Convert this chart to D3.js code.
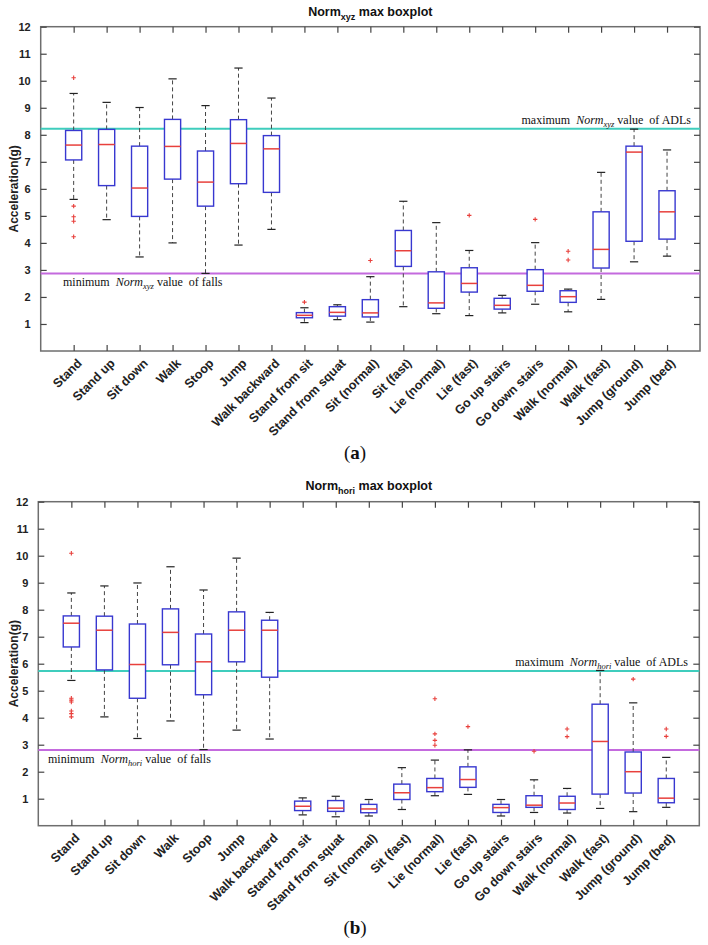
<!DOCTYPE html>
<html><head><meta charset="utf-8">
<script src="https://cdn.jsdelivr.net/npm/d3@7"></script>
<style>body{margin:0;background:#fff} svg{display:block}</style>
</head><body>
<svg id="c" width="708" height="945"></svg>
<script>
const categories = ["Stand","Stand up","Sit down","Walk","Stoop","Jump","Walk backward","Stand from sit","Stand from squat","Sit (normal)","Sit (fast)","Lie (normal)","Lie (fast)","Go up stairs","Go down stairs","Walk (normal)","Walk (fast)","Jump (ground)","Jump (bed)"];
const yTicks = [1,2,3,4,5,6,7,8,9,10,11,12];

// (a) Norm_xyz
const xyzLow  = [5.61,4.86,3.48,4.00,2.87,3.92,4.50,1.05,1.16,1.07,1.64,1.38,1.31,1.41,1.73,1.45,1.91,3.30,3.51];
const xyzQ1   = [7.07,6.12,4.98,6.36,5.36,6.19,5.87,1.23,1.29,1.26,3.13,1.58,2.18,1.55,2.21,1.80,3.07,4.06,4.14];
const xyzMed  = [7.62,7.64,6.03,7.57,6.25,7.68,7.48,1.32,1.43,1.41,3.71,1.78,2.50,1.69,2.43,2.01,3.76,7.36,5.15];
const xyzQ3   = [8.16,8.20,7.58,8.57,7.40,8.56,7.97,1.42,1.64,1.90,4.46,2.93,3.08,1.95,3.01,2.23,5.15,7.58,5.93];
const xyzHigh = [9.53,9.20,9.01,10.07,9.08,10.47,9.36,1.60,1.71,2.75,5.54,4.75,3.72,2.06,4.01,2.29,6.61,8.21,7.44];
const xyzOut  = [[10.11,5.36,4.97,4.80,4.23],[],[],[],[],[],[],[1.81],[],[3.35],[],[],[5.02],[],[4.87],[3.69,3.37],[],[],[]];
const xyzMaxADL = 8.22, xyzMinFall = 2.87;

// (b) Norm_hori
const horiLow  = [5.38,4.03,3.23,3.88,2.82,3.54,3.21,0.40,0.33,0.36,0.60,1.11,1.16,0.36,0.49,0.47,0.64,0.52,0.68];
const horiQ1   = [6.62,5.77,4.72,5.96,4.85,6.07,5.50,0.56,0.53,0.48,0.97,1.26,1.42,0.49,0.68,0.60,1.17,1.21,0.85];
const horiMed  = [7.50,7.24,5.97,7.16,6.07,7.24,7.24,0.72,0.65,0.62,1.22,1.41,1.71,0.67,0.76,0.84,3.12,2.00,1.02];
const horiQ3   = [7.77,7.76,7.47,8.03,7.10,7.92,7.61,0.91,0.93,0.79,1.54,1.75,2.18,0.79,1.11,1.09,4.50,2.73,1.75];
const horiHigh = [8.62,8.88,8.99,9.59,8.73,9.91,7.90,1.03,1.09,0.97,2.15,2.43,2.81,0.97,1.70,1.38,5.75,4.55,2.53];
const horiOut  = [[10.09,4.72,4.65,4.58,4.25,4.15,4.03],[],[],[],[],[],[],[],[],[],[],[4.70,3.40,3.16,2.98],[3.67],[],[2.76],[3.58,3.30],[],[5.43],[3.58,3.31]];
const horiMaxADL = 5.73, horiMinFall = 2.80;

const svg = d3.select("#c");
const SANS = "'Liberation Sans', Arial, sans-serif";
const SERIF = "'Liberation Serif', 'Times New Roman', serif";

function panel(cfg) {
  const x = d3.scaleLinear().domain([0, categories.length + 1]).range([cfg.left, cfg.right]);
  const y = d3.scaleLinear().domain([0, 12]).range([cfg.bottom, cfg.top]);
  const g = svg.append("g");
  const step = x(1) - x(0);
  const bw = step * 0.49, cw = step * 0.25;

  // title
  const t = g.append("text").attr("x", (cfg.left + cfg.right) / 2).attr("y", cfg.titleY)
    .attr("text-anchor", "middle").attr("font-family", SANS).attr("font-weight", "bold")
    .attr("font-size", 12.5).attr("fill", "#111");
  t.append("tspan").text("Norm");
  t.append("tspan").attr("font-size", 9).attr("dy", 4).text(cfg.sub);
  t.append("tspan").attr("dy", -4).text(" max boxplot");

  // frame
  g.append("rect").attr("x", cfg.left).attr("y", cfg.top)
    .attr("width", cfg.right - cfg.left).attr("height", cfg.bottom - cfg.top)
    .attr("fill", "none").attr("stroke", "#6e6e6e").attr("stroke-width", 1.5);

  // y ticks
  const yAxisL = d3.axisLeft(y).tickValues(yTicks).tickSizeInner(-6).tickSizeOuter(0).tickPadding(10);
  const ga = g.append("g").attr("transform", `translate(${cfg.left},0)`).call(yAxisL);
  ga.select(".domain").remove();
  ga.selectAll(".tick line").attr("stroke", "#444").attr("stroke-width", 1.2);
  ga.selectAll(".tick text").attr("font-family", SANS).attr("font-weight", "bold")
    .attr("font-size", 11).attr("fill", "#222");
  const yAxisR = d3.axisRight(y).tickValues(yTicks).tickSizeInner(-6).tickSizeOuter(0).tickFormat("");
  const gr = g.append("g").attr("transform", `translate(${cfg.right},0)`).call(yAxisR);
  gr.select(".domain").remove();
  gr.selectAll(".tick line").attr("stroke", "#444").attr("stroke-width", 1.2);

  // x ticks
  const idx = categories.map((c, i) => i + 1);
  const xAxisB = d3.axisBottom(x).tickValues(idx).tickSizeInner(-6).tickSizeOuter(0).tickFormat("");
  const gb = g.append("g").attr("transform", `translate(0,${cfg.bottom})`).call(xAxisB);
  gb.select(".domain").remove();
  gb.selectAll(".tick line").attr("stroke", "#444").attr("stroke-width", 1.2);
  const xAxisT = d3.axisTop(x).tickValues(idx).tickSizeInner(-6).tickSizeOuter(0).tickFormat("");
  const gt = g.append("g").attr("transform", `translate(0,${cfg.top})`).call(xAxisT);
  gt.select(".domain").remove();
  gt.selectAll(".tick line").attr("stroke", "#444").attr("stroke-width", 1.2);

  // category labels
  g.selectAll("text.cat").data(categories).join("text").attr("class", "cat")
    .attr("transform", (d, i) => `translate(${x(i + 1) + 9},${cfg.bottom + 13}) rotate(-45)`)
    .attr("text-anchor", "end").attr("font-family", SANS).attr("font-weight", "bold")
    .attr("font-size", 12.5).attr("fill", "#222").text(d => d);

  // y label
  g.append("text").attr("transform", `translate(${cfg.ylabX},${(cfg.top + cfg.bottom) / 2}) rotate(-90)`)
    .attr("text-anchor", "middle").attr("dy", "0.35em").attr("font-family", SANS).attr("font-weight", "bold")
    .attr("font-size", 12).attr("fill", "#222").text("Acceleration(g)");

  // reference lines
  g.append("line").attr("x1", cfg.left).attr("x2", cfg.right).attr("y1", y(cfg.maxADL)).attr("y2", y(cfg.maxADL))
    .attr("stroke", "#3fcdbd").attr("stroke-width", 2);
  g.append("line").attr("x1", cfg.left).attr("x2", cfg.right).attr("y1", y(cfg.minFall)).attr("y2", y(cfg.minFall))
    .attr("stroke", "#c46ade").attr("stroke-width", 2);

  function annot(tx, ty, anchor, pre, post) {
    const a = g.append("text").attr("x", tx).attr("y", ty).attr("text-anchor", anchor)
      .attr("font-family", SERIF).attr("font-size", 12).attr("fill", "#111");
    a.append("tspan").text(pre);
    a.append("tspan").attr("font-style", "italic").text("Norm");
    a.append("tspan").attr("font-style", "italic").attr("font-size", 8.5).attr("dy", 3).text(cfg.sub);
    a.append("tspan").attr("dy", -3).text(post);
  }
  annot(cfg.maxTextX, y(cfg.maxADL) - 5, "end", "maximum\u00a0\u00a0", "\u00a0value\u00a0\u00a0of ADLs");
  annot(cfg.minTextX, y(cfg.minFall) + 13, "start", "minimum\u00a0\u00a0", "\u00a0value\u00a0\u00a0of falls");

  // boxes
  const boxes = categories.map((c, i) => ({ i: i + 1, lo: cfg.low[i], q1: cfg.q1[i], med: cfg.med[i], q3: cfg.q3[i], hi: cfg.high[i], out: cfg.out[i] }));
  const bg = g.append("g");
  const b = bg.selectAll("g").data(boxes).join("g");
  b.append("line").attr("x1", d => x(d.i)).attr("x2", d => x(d.i)).attr("y1", d => y(d.q3)).attr("y2", d => y(d.hi))
    .attr("stroke", "#444").attr("stroke-width", 1).attr("stroke-dasharray", "4,3");
  b.append("line").attr("x1", d => x(d.i)).attr("x2", d => x(d.i)).attr("y1", d => y(d.q1)).attr("y2", d => y(d.lo))
    .attr("stroke", "#444").attr("stroke-width", 1).attr("stroke-dasharray", "4,3");
  b.append("line").attr("x1", d => x(d.i) - cw / 2).attr("x2", d => x(d.i) + cw / 2).attr("y1", d => y(d.hi)).attr("y2", d => y(d.hi))
    .attr("stroke", "#222").attr("stroke-width", 1.2);
  b.append("line").attr("x1", d => x(d.i) - cw / 2).attr("x2", d => x(d.i) + cw / 2).attr("y1", d => y(d.lo)).attr("y2", d => y(d.lo))
    .attr("stroke", "#222").attr("stroke-width", 1.2);
  b.append("rect").attr("x", d => x(d.i) - bw / 2).attr("width", bw)
    .attr("y", d => y(d.q3)).attr("height", d => y(d.q1) - y(d.q3))
    .attr("fill", "#fff").attr("stroke", "#3838d0").attr("stroke-width", 1.4);
  b.append("line").attr("x1", d => x(d.i) - bw / 2).attr("x2", d => x(d.i) + bw / 2).attr("y1", d => y(d.med)).attr("y2", d => y(d.med))
    .attr("stroke", "#e8403c").attr("stroke-width", 1.5);
  b.each(function (d) {
    d3.select(this).selectAll("path.o").data(d.out).join("path").attr("class", "o")
      .attr("d", v => `M${x(d.i) - 2.2},${y(v)}H${x(d.i) + 2.2}M${x(d.i)},${y(v) - 2.2}V${y(v) + 2.2}`)
      .attr("stroke", "#e8403c").attr("stroke-width", 1.1).attr("fill", "none");
  });

  // caption
  const cp = svg.append("text").attr("x", 355).attr("y", cfg.capY).attr("text-anchor", "middle")
    .attr("font-family", SERIF).attr("font-size", 19).attr("fill", "#111");
  cp.append("tspan").text("(");
  cp.append("tspan").attr("font-weight", "bold").text(cfg.cap);
  cp.append("tspan").text(")");
}

panel({ left: 40.7, right: 700, top: 26.7, bottom: 351, titleY: 16, sub: "xyz", ylabX: 14,
  low: xyzLow, q1: xyzQ1, med: xyzMed, q3: xyzQ3, high: xyzHigh, out: xyzOut,
  maxADL: xyzMaxADL, minFall: xyzMinFall, maxTextX: 691, minTextX: 63, cap: "a", capY: 459 });
panel({ left: 38.3, right: 699.3, top: 501.7, bottom: 825.7, titleY: 490, sub: "hori", ylabX: 13.5,
  low: horiLow, q1: horiQ1, med: horiMed, q3: horiQ3, high: horiHigh, out: horiOut,
  maxADL: horiMaxADL, minFall: horiMinFall, maxTextX: 688, minTextX: 48, cap: "b", capY: 934 });
</script></body></html>
